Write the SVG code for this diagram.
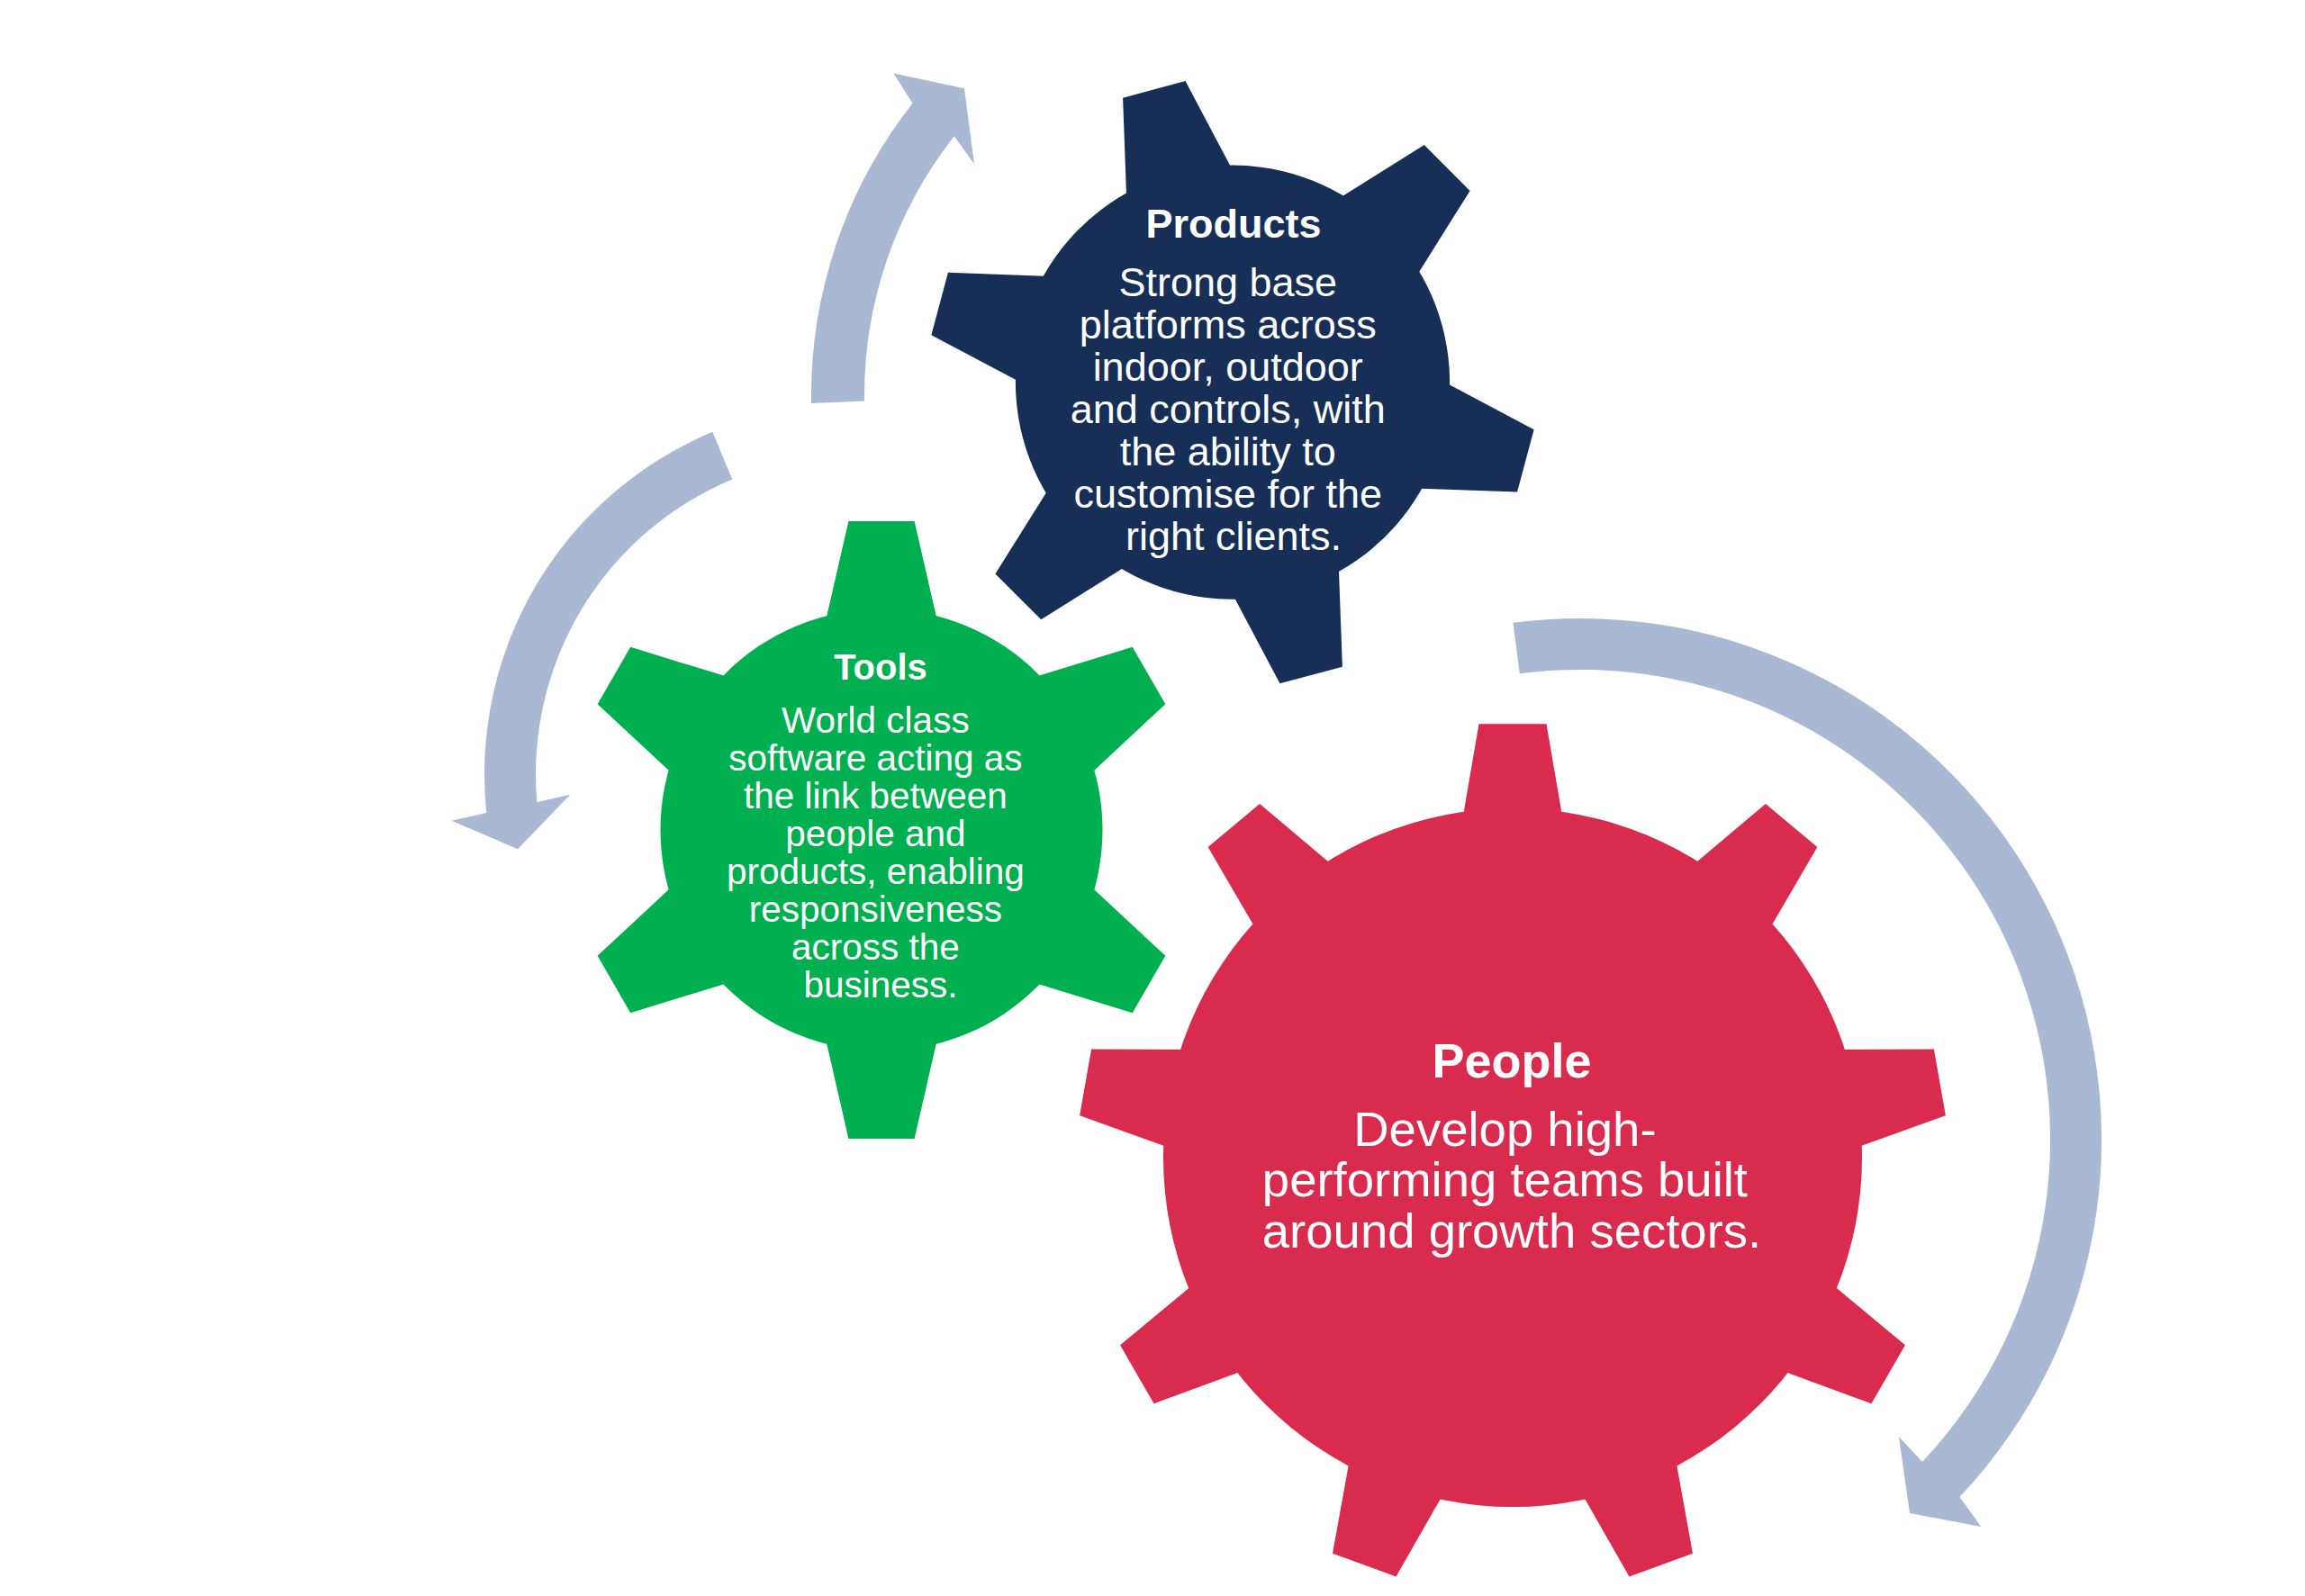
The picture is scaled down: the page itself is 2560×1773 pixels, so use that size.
<svg xmlns="http://www.w3.org/2000/svg" xmlns:xlink="http://www.w3.org/1999/xlink" width="2560" height="1773" viewBox="0 0 2560 1773">
  <style>
    .arrow { fill: #A9B9D3; }
    .navy { fill: #172F56; }
    .green { fill: #00B050; }
    .red { fill: #D92B4E; }
    text { font-family: "Liberation Sans", Arial, sans-serif; fill: #FFFFFF; text-anchor: middle; }
    .title { font-weight: bold; }
  </style>
  <defs>
    <polygon id="tooth6" points="-62.5,-230 -36.6,-343 36.6,-343 62.5,-230"/>
    <polygon id="tooth9" points="-56.7,-370 -37.5,-481.7 37.5,-481.7 56.7,-370"/>
  </defs>
  <rect width="2560" height="1773" fill="#FFFFFF"/>

  <g id="connectors" class="arrow">
    <path id="arrow-tools-to-products" d="M 901,448 A 526 526 0 0 1 1013.5,114.7 L 992.5,81.6 L 1071,98.2 L 1082,182.2 L 1059.8,151.2 A 467 467 0 0 0 960,445.5 Z"/>
    <path id="arrow-products-to-tools" d="M 791.3,479.8 A 412 412 0 0 0 540.3,903.1 L 501.7,911.7 L 575,943.3 L 633.3,882.7 L 596.4,891 A 355 355 0 0 1 813.3,532.4 Z"/>
    <path id="arrow-around-people" d="M 1680.4,691.8 A 579 579 0 0 1 2176.4,1663.1 L 2200.4,1695.9 L 2121,1681.1 L 2108.9,1596.1 L 2134.9,1624 A 522 522 0 0 0 1687.8,748.3 Z"/>
  </g>

  <g id="products">
    <g class="navy" transform="translate(1369,424.7) rotate(-15) scale(0.982)">
      <circle cx="0" cy="0" r="245.5"/>
      <use xlink:href="#tooth6"/>
      <use xlink:href="#tooth6" transform="rotate(60)"/>
      <use xlink:href="#tooth6" transform="rotate(120)"/>
      <use xlink:href="#tooth6" transform="rotate(180)"/>
      <use xlink:href="#tooth6" transform="rotate(240)"/>
      <use xlink:href="#tooth6" transform="rotate(300)"/>
    </g>
    <text class="title" x="1370" y="263.5" font-size="45">Products</text>
    <text x="1370" y="329.2" font-size="45">
      <tspan x="1370" y="329.2">Strong base</tspan>
      <tspan x="1370" y="376.2">platforms across</tspan>
      <tspan x="1370" y="423.2">indoor, outdoor</tspan>
      <tspan x="1370" y="470.2">and controls, with</tspan>
      <tspan x="1370" y="517.2">the ability to</tspan>
      <tspan x="1370" y="564.2">customise for the</tspan>
      <tspan x="1370" y="611.2">right clients.</tspan>
    </text>
  </g>

  <g id="tools">
    <g class="green" transform="translate(979,922)">
      <circle cx="0" cy="0" r="245.5"/>
      <use xlink:href="#tooth6"/>
      <use xlink:href="#tooth6" transform="rotate(60)"/>
      <use xlink:href="#tooth6" transform="rotate(120)"/>
      <use xlink:href="#tooth6" transform="rotate(180)"/>
      <use xlink:href="#tooth6" transform="rotate(240)"/>
      <use xlink:href="#tooth6" transform="rotate(300)"/>
    </g>
    <text class="title" x="978" y="755" font-size="40">Tools</text>
    <text x="978" y="813.5" font-size="40.5">
      <tspan x="978" y="813.5">World class</tspan>
      <tspan x="978" y="855.6">software acting as</tspan>
      <tspan x="978" y="897.7">the link between</tspan>
      <tspan x="978" y="939.8">people and</tspan>
      <tspan x="978" y="981.9">products, enabling</tspan>
      <tspan x="978" y="1024">responsiveness</tspan>
      <tspan x="978" y="1066.1">across the</tspan>
      <tspan x="978" y="1108.2">business.</tspan>
    </text>
  </g>

  <g id="people">
    <g class="red" transform="translate(1680,1286)">
      <circle cx="0" cy="0" r="388"/>
      <use xlink:href="#tooth9"/>
      <use xlink:href="#tooth9" transform="rotate(40)"/>
      <use xlink:href="#tooth9" transform="rotate(80)"/>
      <use xlink:href="#tooth9" transform="rotate(120)"/>
      <use xlink:href="#tooth9" transform="rotate(160)"/>
      <use xlink:href="#tooth9" transform="rotate(200)"/>
      <use xlink:href="#tooth9" transform="rotate(240)"/>
      <use xlink:href="#tooth9" transform="rotate(280)"/>
      <use xlink:href="#tooth9" transform="rotate(320)"/>
    </g>
    <text class="title" x="1679" y="1196.5" font-size="54">People</text>
    <text x="1679" y="1272.8" font-size="54.5">
      <tspan x="1679" y="1272.8">Develop high-</tspan>
      <tspan x="1679" y="1329.4">performing teams built</tspan>
      <tspan x="1679" y="1386">around growth sectors.</tspan>
    </text>
  </g>
</svg>
